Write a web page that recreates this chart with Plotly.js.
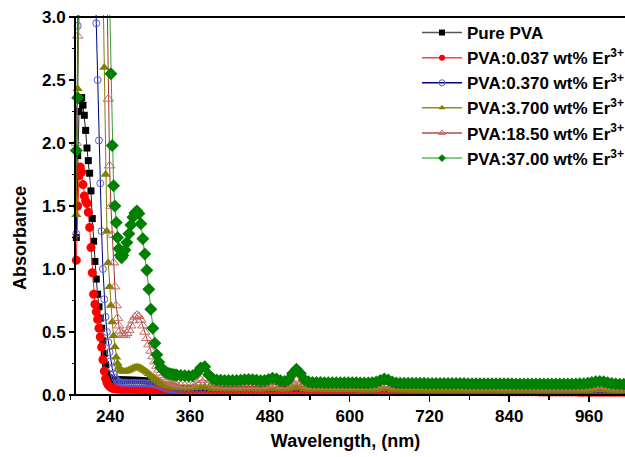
<!DOCTYPE html>
<html><head><meta charset="utf-8">
<script src="https://cdn.plot.ly/plotly-3.0.1.min.js"></script>
<style>html,body{margin:0;padding:0;background:#fff}#chart{width:625px;height:457px}</style>
</head><body><div id="chart"></div>
<script>
// Wavelength grid (nm)
const wavelength = [
189,191,193,195,197,199,201,203,205,207,209,211,213,215,217,219,221,223,225,227,229,231,233,235,237,239,241,243,245,247,249,251,253,255,257,259,
262,265,268,271,274,277,280,283,286,289,292,295,298,301,304,307,310,313,316,319,322,325,328,331,334,337,
340,346,352,358,364,370,376,382,388,394,400,
406,412,418,424,430,436,442,448,454,460,466,472,478,484,490,496,502,508,514,520,526,532,538,544,550,556,562,568,574,580,
586,592,598,604,610,616,622,628,634,640,646,652,658,664,670,676,682,688,694,700,
706,712,718,724,730,736,742,748,754,760,766,772,778,784,790,796,802,808,814,820,826,832,838,844,850,856,862,868,874,880,
886,892,898,904,910,916,922,928,934,940,946,952,958,964,970,976,982,988,994,1000,1006,1012];

const purePVA = [
1.25,1.9,2.25,2.34,2.36,2.3,2.22,2.1,1.96,1.86,1.76,1.62,1.4,1.22,1.06,0.92,0.8,0.7,0.61,0.53,0.43,0.33,0.24,0.17,0.14,0.13,0.125,0.122,0.12,0.12,0.12,0.119,0.119,0.118,0.118,0.118,
0.118,0.118,0.117,0.117,0.117,0.116,0.116,0.116,0.115,0.115,0.114,0.113,0.112,0.11,0.108,0.104,0.098,0.09,0.082,0.074,0.067,0.061,0.056,0.052,0.049,0.047,
0.045,0.044,0.043,0.043,0.042,0.042,0.042,0.041,0.041,0.041,0.04,
0.04,0.04,0.04,0.04,0.04,0.04,0.04,0.04,0.04,0.04,0.039,0.039,0.039,0.039,0.039,0.039,0.039,0.039,0.039,0.039,0.038,0.038,0.038,0.038,0.038,0.038,0.038,0.038,0.038,0.038,
0.037,0.037,0.037,0.037,0.037,0.037,0.037,0.037,0.037,0.037,0.036,0.036,0.036,0.036,0.036,0.036,0.036,0.036,0.036,0.036,
0.036,0.036,0.036,0.036,0.036,0.036,0.036,0.036,0.036,0.036,0.035,0.035,0.035,0.035,0.035,0.035,0.035,0.035,0.035,0.035,0.034,0.034,0.034,0.034,0.034,0.034,0.034,0.034,0.034,0.034,
0.033,0.033,0.033,0.033,0.033,0.033,0.033,0.033,0.033,0.033,0.032,0.032,0.032,0.032,0.032,0.032,0.032,0.032,0.032,0.032,0.032,0.032];

const er0037 = [
1.07,1.5,1.74,1.81,1.77,1.67,1.58,1.54,1.52,1.45,1.33,1.17,0.97,0.8,0.72,0.66,0.6,0.53,0.46,0.38,0.28,0.19,0.13,0.1,0.08,0.068,0.06,0.055,0.052,0.05,0.049,0.048,0.047,0.047,0.046,0.046,
0.046,0.045,0.045,0.045,0.044,0.044,0.044,0.044,0.043,0.043,0.043,0.043,0.042,0.042,0.042,0.042,0.041,0.041,0.041,0.041,0.04,0.04,0.04,0.04,0.04,0.04,
0.039,0.039,0.038,0.038,0.038,0.037,0.037,0.037,0.036,0.036,0.036,
0.035,0.035,0.035,0.035,0.035,0.035,0.035,0.035,0.035,0.035,0.034,0.034,0.034,0.034,0.034,0.034,0.034,0.034,0.034,0.034,0.033,0.033,0.033,0.033,0.033,0.033,0.033,0.033,0.033,0.033,
0.032,0.032,0.032,0.032,0.032,0.032,0.032,0.032,0.032,0.032,0.031,0.031,0.031,0.031,0.031,0.031,0.031,0.031,0.031,0.031,
0.029,0.029,0.029,0.029,0.029,0.029,0.029,0.029,0.029,0.029,0.027,0.027,0.027,0.027,0.027,0.027,0.027,0.027,0.027,0.027,0.025,0.025,0.025,0.025,0.025,0.025,0.025,0.025,0.025,0.025,
0.024,0.024,0.024,0.024,0.024,0.024,0.024,0.024,0.024,0.024,0.022,0.022,0.022,0.022,0.022,0.022,0.022,0.022,0.022,0.022,0.022,0.022];

const er0370 = [
1.28,2.93,3.5,3.5,3.5,3.5,3.5,3.5,3.5,3.5,3.5,3.5,3.5,3.5,3.5,2.95,2.5,2.02,1.68,1.3,1.0,0.76,0.62,0.5,0.42,0.34,0.27,0.21,0.17,0.14,0.12,0.11,0.103,0.1,0.098,0.097,
0.096,0.096,0.095,0.095,0.095,0.095,0.094,0.094,0.094,0.093,0.093,0.092,0.091,0.09,0.088,0.085,0.08,0.074,0.068,0.062,0.056,0.051,0.047,0.044,0.041,0.039,
0.037,0.036,0.035,0.034,0.034,0.034,0.035,0.035,0.034,0.033,0.033,
0.032,0.032,0.032,0.032,0.032,0.032,0.032,0.032,0.032,0.032,0.031,0.031,0.031,0.031,0.031,0.031,0.031,0.031,0.031,0.031,0.03,0.03,0.03,0.03,0.03,0.03,0.03,0.03,0.03,0.03,
0.029,0.029,0.029,0.029,0.029,0.029,0.029,0.029,0.029,0.029,0.028,0.028,0.028,0.028,0.028,0.028,0.028,0.028,0.028,0.028,
0.027,0.027,0.027,0.027,0.027,0.027,0.027,0.027,0.027,0.027,0.026,0.026,0.026,0.026,0.026,0.026,0.026,0.026,0.026,0.026,0.025,0.025,0.025,0.025,0.025,0.025,0.025,0.025,0.025,0.025,
0.024,0.024,0.024,0.024,0.024,0.024,0.024,0.024,0.024,0.024,0.023,0.023,0.023,0.023,0.023,0.023,0.023,0.023,0.023,0.023,0.023,0.023];

const er3700 = [
1.43,2.43,3.5,3.5,3.5,3.5,3.5,3.5,3.5,3.5,3.5,3.5,3.5,3.5,3.5,3.5,3.5,3.5,3.5,3.5,3.3,2.6,1.75,1.3,1.05,0.86,0.71,0.58,0.47,0.38,0.3,0.25,0.22,0.2,0.19,0.188,
0.186,0.19,0.197,0.205,0.212,0.218,0.22,0.218,0.212,0.203,0.192,0.18,0.168,0.155,0.142,0.13,0.118,0.107,0.097,0.088,0.08,0.074,0.069,0.065,0.062,0.06,
0.058,0.056,0.054,0.053,0.055,0.06,0.066,0.066,0.058,0.052,0.05,
0.049,0.048,0.048,0.047,0.047,0.047,0.047,0.047,0.047,0.046,0.046,0.047,0.05,0.052,0.05,0.046,0.045,0.048,0.06,0.068,0.06,0.048,0.044,0.043,0.043,0.043,0.042,0.042,0.042,0.042,
0.041,0.041,0.041,0.041,0.041,0.04,0.04,0.04,0.04,0.041,0.045,0.05,0.048,0.042,0.04,0.039,0.039,0.039,0.038,0.038,
0.038,0.038,0.038,0.038,0.038,0.038,0.038,0.038,0.038,0.038,0.037,0.037,0.037,0.037,0.037,0.037,0.037,0.037,0.037,0.037,0.036,0.036,0.036,0.036,0.036,0.036,0.036,0.036,0.036,0.036,
0.035,0.035,0.035,0.035,0.035,0.035,0.035,0.035,0.035,0.035,0.035,0.035,0.036,0.038,0.042,0.044,0.042,0.038,0.035,0.034,0.034,0.033];

const er1850 = [
2.0,2.85,3.5,3.5,3.5,3.5,3.5,3.5,3.5,3.5,3.5,3.5,3.5,3.5,3.5,3.5,3.5,3.5,3.5,3.5,3.5,3.5,3.5,3.3,2.35,1.82,1.5,1.27,1.05,0.86,0.71,0.61,0.55,0.51,0.485,0.475,
0.475,0.49,0.515,0.55,0.59,0.62,0.633,0.625,0.595,0.55,0.5,0.45,0.4,0.35,0.305,0.265,0.23,0.2,0.175,0.155,0.138,0.124,0.112,0.102,0.094,0.088,
0.083,0.077,0.074,0.073,0.078,0.095,0.118,0.12,0.095,0.078,0.072,
0.07,0.069,0.068,0.068,0.068,0.068,0.069,0.07,0.071,0.07,0.068,0.07,0.077,0.085,0.08,0.07,0.068,0.075,0.098,0.112,0.098,0.076,0.067,0.065,0.065,0.065,0.064,0.064,0.064,0.064,
0.064,0.063,0.063,0.063,0.063,0.063,0.063,0.063,0.064,0.067,0.075,0.085,0.082,0.07,0.064,0.062,0.062,0.062,0.061,0.061,
0.061,0.061,0.061,0.061,0.061,0.061,0.061,0.061,0.061,0.061,0.06,0.06,0.06,0.06,0.06,0.06,0.06,0.06,0.06,0.06,0.059,0.059,0.059,0.059,0.059,0.059,0.059,0.059,0.059,0.059,
0.058,0.058,0.058,0.058,0.058,0.058,0.058,0.058,0.058,0.058,0.058,0.058,0.06,0.065,0.072,0.075,0.071,0.064,0.06,0.058,0.057,0.056];

const er3700b = [
1.94,2.36,3.5,3.5,3.5,3.5,3.5,3.5,3.5,3.5,3.5,3.5,3.5,3.5,3.5,3.5,3.5,3.5,3.5,3.5,3.5,3.5,3.5,3.5,3.5,3.15,2.55,1.98,1.66,1.5,1.37,1.25,1.16,1.11,1.09,1.11,
1.15,1.21,1.28,1.35,1.41,1.445,1.46,1.44,1.36,1.24,1.12,0.99,0.84,0.68,0.53,0.41,0.32,0.26,0.22,0.2,0.186,0.177,0.17,0.166,0.163,0.16,
0.158,0.155,0.152,0.15,0.152,0.175,0.215,0.225,0.16,0.128,0.12,
0.117,0.116,0.115,0.115,0.116,0.118,0.121,0.123,0.122,0.118,0.114,0.116,0.124,0.132,0.126,0.113,0.108,0.122,0.17,0.205,0.17,0.122,0.105,0.1,0.099,0.099,0.098,0.098,0.098,0.098,
0.097,0.097,0.097,0.097,0.097,0.096,0.096,0.096,0.098,0.104,0.115,0.126,0.12,0.104,0.096,0.094,0.094,0.093,0.093,0.093,
0.093,0.093,0.092,0.092,0.092,0.092,0.092,0.091,0.091,0.091,0.091,0.091,0.09,0.09,0.09,0.09,0.09,0.09,0.089,0.089,0.089,0.089,0.089,0.089,0.088,0.088,0.088,0.088,0.088,0.088,
0.088,0.087,0.087,0.087,0.087,0.087,0.087,0.087,0.087,0.088,0.089,0.09,0.093,0.099,0.106,0.108,0.105,0.098,0.092,0.088,0.086,0.085];

const seriesNames = ['Pure PVA','PVA:0.037 wt% Er<sup>3+</sup>','PVA:0.370 wt% Er<sup>3+</sup>','PVA:3.700 wt% Er<sup>3+</sup>','PVA:18.50 wt% Er<sup>3+</sup>','PVA:37.00 wt% Er<sup>3+</sup>'];
const seriesValues = [purePVA, er0037, er0370, er3700, er1850, er3700b];
const xTitle = 'Wavelength, (nm)';
const yTitle = 'Absorbance';
const xFrame = [187, 1014];   // visible axis frame (wavelength)
const yFrame = [0, 3];        // visible axis frame (absorbance)
const xMajor = [240,360,480,600,720,840,960];
const yMajor = [0,0.5,1,1.5,2,2.5,3];

const styles = [
  {line:'#222222', legLine:'#555555', marker:{symbol:'square', size:7, color:'#000000'}},
  {line:'#ff2020', legLine:'#ff4040', marker:{symbol:'circle', size:9, color:'#ff0000'}},
  {line:'#000080', legLine:'#000080', marker:{symbol:'circle-open', size:7, color:'#5a5ad2', line:{width:1}}},
  {line:'#808000', legLine:'#909020', marker:{symbol:'triangle-up', size:9, color:'#808000'}},
  {line:'#a83030', legLine:'#b04a4a', marker:{symbol:'triangle-up-open', size:9, color:'#c86a6a', line:{width:1}}},
  {line:'#3a9a3a', legLine:'#5cb85c', marker:{symbol:'diamond', size:10, color:'#008000'}}
];

const traces = seriesValues.map((v,i)=>({
  type:'scatter', mode:'lines+markers', x:wavelength, y:v, name:seriesNames[i], showlegend:false,
  line:{color:styles[i].line, width:1}, marker:styles[i].marker
}));
const legendTraces = seriesNames.map((n,i)=>({
  type:'scatter', mode:'lines+markers', x:[null], y:[null], name:n, showlegend:true,
  line:{color:styles[i].legLine, width:1.5},
  marker:Object.assign({}, styles[i].marker, {size:6})
}));

// Plot area is a little larger than the visible frame so the outward ticks stay inside it.
const W = 625, H = 457;
const M = {l:66, r:0, t:15, b:54};
const frameL = 75, frameB = 395, frameT = 17;       // pixel frame of the reference
const pw = W - M.l - M.r, ph = H - M.t - M.b;
const kx = (frameL <= M.l) ? 1 : (W - M.r - frameL) / (xFrame[1] - xFrame[0]);  // px per nm
const ky = (frameB - frameT) / (yFrame[1] - yFrame[0]);                         // px per unit
const xRange = [xFrame[0] - (frameL - M.l) / kx, xFrame[1]];
const yRange = [yFrame[0] - (H - M.b - frameB) / ky, yFrame[1] + (frameT - M.t) / ky];

const frameLine = {color:'#000', width:2};
const shapes = [
  {type:'line', xref:'x', yref:'y', x0:xFrame[0], x1:xFrame[1], y0:yFrame[0], y1:yFrame[0], line:frameLine},
  {type:'line', xref:'x', yref:'y', x0:xFrame[0], x1:xFrame[0], y0:yFrame[0], y1:yFrame[1], line:frameLine},
  {type:'line', xref:'x', yref:'y', x0:xFrame[0], x1:xFrame[1], y0:yFrame[1], y1:yFrame[1], line:frameLine}
];

const fontFam = '"Liberation Sans", Arial, sans-serif';
const layout = {
  width:W, height:H,
  margin:Object.assign({autoexpand:false}, M),
  paper_bgcolor:'#fff', plot_bgcolor:'#fff',
  showlegend:true,
  legend:{x:(417 - M.l) / pw, y:1.0, xanchor:'left', yanchor:'top', bgcolor:'rgba(0,0,0,0)', itemwidth:40,
    font:{family:fontFam, size:17, color:'#000', weight:'bold'}},
  xaxis:{range:xRange, anchor:'free', position:(H - M.b - frameB) / ph,
    tickmode:'array', tickvals:xMajor, ticks:'outside', ticklen:6, tickwidth:1.6, tickcolor:'#000',
    minor:{dtick:60, tick0:0, ticks:'outside', ticklen:3.5, tickwidth:1.6, tickcolor:'#000', showgrid:false},
    showline:false, showgrid:false, zeroline:false,
    tickfont:{family:fontFam, size:17, color:'#000', weight:'bold'},
    title:{text:xTitle, font:{family:fontFam, size:18, color:'#000', weight:'bold'}, standoff:8}},
  yaxis:{range:yRange, anchor:'free', position:(frameL - M.l) / pw,
    tickmode:'array', tickvals:yMajor, ticktext:yMajor.map(v=>v.toFixed(1)), ticks:'outside', ticklen:6, tickwidth:1.6, tickcolor:'#000',
    minor:{dtick:0.25, tick0:0, ticks:'outside', ticklen:3.5, tickwidth:1.6, tickcolor:'#000', showgrid:false},
    showline:false, showgrid:false, zeroline:false,
    tickfont:{family:fontFam, size:17, color:'#000', weight:'bold'}},
  shapes:shapes,
  annotations:[{text:yTitle, xref:'paper', yref:'paper', x:(20 - M.l) / pw, y:(H - M.b - 238) / ph,
    xanchor:'center', yanchor:'middle', textangle:-90, showarrow:false,
    font:{family:fontFam, size:18, color:'#000', weight:'bold'}}]
};
Plotly.newPlot('chart', traces.concat(legendTraces), layout, {displayModeBar:false, staticPlot:true});
</script></body></html>
